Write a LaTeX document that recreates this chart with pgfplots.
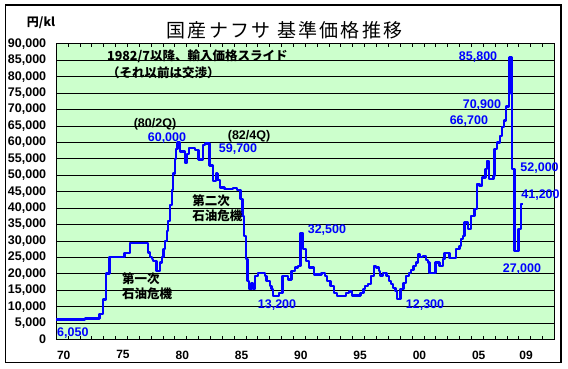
\documentclass[border=0pt]{standalone}
\usepackage{fontspec}
\setmainfont{Liberation Sans}
\newfontfamily\jp{Noto Sans CJK JP}
\newfontfamily\jpt{Noto Sans CJK JP}[LetterSpace=12]
\usepackage{pgfplots}
\pgfplotsset{compat=1.18}
\definecolor{plotbg}{HTML}{CCFFCC}
\definecolor{lineblue}{HTML}{0000FF}
\begin{document}
\begin{tikzpicture}[x=1pt,y=1pt]
\path[use as bounding box] (0,0) rectangle (568,368);
\draw[black, line width=1.3pt] (5.4,5.7) rectangle (561,363);
\node[font=\jpt\fontsize{19}{19}\selectfont, inner sep=0pt] at (284.5,338) {国産ナフサ 基準価格推移};
\node[font=\jp\bfseries\fontsize{12}{12}\selectfont, inner sep=0pt] at (41,345) {円/kl};
\begin{axis}[
  at={(56.2pt,28.5pt)}, anchor=south west,
  scale only axis, width=498.1pt, height=295.7pt,
  xmin=1970, xmax=2012, ymin=0, ymax=90000,
  axis background/.style={fill=plotbg},
  axis line style={black, line width=0.8pt},
  ytick={0,5000,...,90000},
  scaled y ticks=false,
  ymajorgrids, grid style={black, line width=0.8pt},
  ytick style={draw=none},
  yticklabel style={font=\bfseries\fontsize{12.5}{12.5}\selectfont, anchor=east, inner sep=0pt, xshift=-9.8pt,
    /pgf/number format/.cd, 1000 sep={,}, assume math mode=true},
  xtick={1970,...,2011},
  xticklabels={70,,,,,75,,,,,80,,,,,85,,,,,90,,,,,95,,,,,00,,,,,05,,,,09,,},
  xtick align=inside, major tick length=3.5pt,
  xtick style={black, line width=0.6pt},
  xticklabel style={font=\bfseries\fontsize{12}{12}\selectfont, anchor=north, inner sep=0pt, xshift=7.5pt, yshift=-11pt},
  clip=false,
]
\addplot[const plot, color=lineblue, line width=2.3pt, line join=round] coordinates {
(1970.0,6050) (1972.4,6400) (1973.65,7800) (1973.94,12200) (1974.2,20100) (1974.5,25200)
(1975.77,26400) (1976.2,29300) (1977.77,26500) (1977.91,25200) (1978.05,24500) (1978.19,23900)
(1978.47,20800) (1978.75,23400) (1978.9,25200) (1979.05,27500) (1979.2,30000) (1979.32,33000)
(1979.45,36000) (1979.6,41000) (1979.74,45500) (1979.87,50500) (1980.0,55000) (1980.12,58000)
(1980.22,60000) (1980.42,57200) (1980.86,53800) (1981.05,56500) (1981.2,58200) (1981.7,57600)
(1982.0,54800) (1982.4,59300) (1982.55,59700) (1982.93,53000) (1983.2,48300) (1983.45,50500)
(1983.6,48600) (1983.8,46300) (1984.2,45800) (1984.9,46200) (1985.25,45600) (1985.55,42700)
(1985.7,37600) (1985.85,31500) (1985.99,24400) (1986.13,17800) (1986.27,15300) (1986.47,17300)
(1986.61,15300) (1986.75,19300) (1987.03,20300) (1987.6,19300) (1987.74,17800) (1988.01,16300)
(1988.15,15300) (1988.29,13200) (1988.8,14200) (1989.08,19300) (1989.55,18300) (1989.84,20800)
(1990.12,21900) (1990.4,22400) (1990.6,32500) (1990.82,27500) (1991.04,23900) (1991.3,21900)
(1991.72,19800) (1992.36,20300) (1992.64,19300) (1992.84,17800) (1993.12,16300) (1993.4,14200)
(1993.68,13200) (1994.41,14200) (1994.69,14600) (1994.97,13400) (1995.65,14200) (1995.9,15400)
(1996.01,16300) (1996.29,16800) (1996.57,19300) (1996.77,22400) (1996.99,21900) (1997.22,20800)
(1997.33,19500) (1997.55,20300) (1997.84,19300) (1998.06,17800) (1998.26,16800) (1998.4,15700)
(1998.62,14700) (1998.73,12300) (1999.04,15300) (1999.29,17300) (1999.52,19300) (1999.74,20300)
(1999.94,21200) (2000.13,22400) (2000.36,23400) (2000.5,25900) (2000.7,25200) (2000.92,25400)
(2001.2,24300) (2001.34,23400) (2001.48,20300) (2001.99,23400) (2002.32,22400) (2002.6,24400)
(2002.74,26400) (2003.17,24900) (2003.73,27500) (2004.0,28500) (2004.15,30500) (2004.29,31500)
(2004.43,35600) (2004.71,33600) (2004.99,37600) (2005.27,39700) (2005.46,47300) (2005.69,46800)
(2005.92,49300) (2006.2,51900) (2006.31,54400) (2006.47,48800) (2006.88,49800) (2006.95,58000)
(2007.15,60000) (2007.43,62000) (2007.6,64600) (2007.74,66700) (2007.94,70900) (2008.16,74700)
(2008.22,85800) (2008.41,52000) (2008.64,27000) (2008.97,33600) (2009.2,41200) (2009.34,41200)
};
\node[font=\jp\bfseries\fontsize{12.5}{12.5}\selectfont, anchor=west, inner sep=0pt] at (axis cs:1974.28,86270) {1982/7以降、輸入価格スライド};
\node[font=\jp\bfseries\fontsize{12.5}{12.5}\selectfont, anchor=west, inner sep=0pt] at (axis cs:1974.28,81200) {（それ以前は交渉）};
\node[font=\bfseries\fontsize{12.5}{12.5}\selectfont, inner sep=0pt] at (axis cs:1978.33,65400) {(80/2Q)};
\node[font=\bfseries\fontsize{12.5}{12.5}\selectfont, inner sep=0pt] at (axis cs:1986.26,61900) {(82/4Q)};
\node[font=\jp\bfseries\fontsize{12.5}{15}\selectfont, align=left, inner sep=0pt] at (axis cs:1983.6,40000) {第二次\\石油危機};
\node[font=\jp\bfseries\fontsize{12.5}{15}\selectfont, align=left, inner sep=0pt] at (axis cs:1977.66,16300) {第一次\\石油危機};
\begin{scope}[every node/.style={font=\bfseries\fontsize{12.5}{12.5}\selectfont, text=lineblue, inner sep=0pt}]
\node at (axis cs:1979.34,61400) {60,000};
\node at (axis cs:1985.33,58100) {59,700};
\node[anchor=west] at (axis cs:1970.07,2070) {6,050};
\node at (axis cs:1988.62,10500) {13,200};
\node at (axis cs:1992.83,33300) {32,500};
\node at (axis cs:2001.1,10500) {12,300};
\node at (axis cs:2009.27,21450) {27,000};
\node[anchor=west] at (axis cs:2009.13,52200) {52,000};
\node[anchor=west] at (axis cs:2009.21,43800) {41,200};
\node at (axis cs:2005.57,86100) {85,800};
\node at (axis cs:2005.9,71400) {70,900};
\node at (axis cs:2004.8,66600) {66,700};
\end{scope}
\end{axis}
\end{tikzpicture}
\end{document}
